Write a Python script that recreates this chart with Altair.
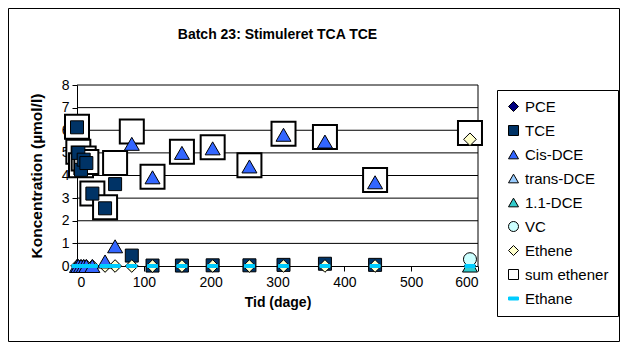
import altair as alt
import pandas as pd

# time points (days)
t_all = [0, 2, 6, 10, 14, 23, 42, 57, 82, 113, 157, 203, 258, 309, 371, 446, 588]

N = None
pce = [0, 0, 0, 0, 0, 0, 0, 0, 0, 0, 0, 0, 0, 0, 0, 0, 0]
tce = [6.13, 5.0, 4.25, 4.7, 4.55, 3.2, 2.55, 3.62, 0.46, 0.02, 0.02, 0.03, 0.03, 0.05, 0.1, 0.05, N]
cis = [0, 0, 0, 0, 0, 0, 0.2, 0.87, 5.4, 3.92, 5.0, 5.2, 4.4, 5.8, 5.5, 3.7, N]
trans = [N, N, N, N, N, N, N, N, N, N, N, N, N, N, N, N, N]
dce11 = [N, N, N, N, N, N, N, N, N, N, N, N, N, N, N, N, 0.02]
vc = [N, N, N, N, N, N, N, N, N, N, N, N, N, N, N, N, 0.3]
ethene = [0, 0, 0, 0, 0, 0, 0, 0, 0, 0, 0, 0, 0, 0, 0, 0, 5.6]
sum_eth = [6.15, 5.05, 4.45, 4.75, 4.6, 3.2, 2.6, 4.55, 5.95, 3.95, 5.05, 5.25, 4.45, 5.85, 5.7, 3.8, 5.88]
ethane = [0, 0, 0, 0, 0, 0, 0, 0, 0, 0, 0, 0, 0, 0, 0, 0, 0]

series_names = ["PCE", "TCE", "Cis-DCE", "trans-DCE", "1.1-DCE", "VC", "Ethene", "sum ethener", "Ethane"]
series_vals = [pce, tce, cis, trans, dce11, vc, ethene, sum_eth, ethane]
shapes = ["diamond", "square", "triangle-up", "triangle-up", "triangle-up", "circle", "diamond", "square",
          "M-1,-0.3L1,-0.3L1,0.3L-1,0.3Z"]
fills = ["#000080", "#003366", "#3366FF", "#99CCFF", "#33CCCC", "#CCFFFF", "#FFFFCC", "#FFFFFF", "#00CCFF"]
strokes = ["#000000", "#000000", "#000000", "#000000", "#000000", "#000000", "#000000", "#000000", "#00CCFF"]

y_ticks = [0, 1, 2, 3, 4, 5, 6, 7, 8]
x_ticks = [0, 100, 200, 300, 400, 500, 600]
title_text = "Batch 23: Stimuleret TCA TCE"

# draw order: sum ethener first (underneath)
draw_order = ["sum ethener", "PCE", "TCE", "trans-DCE", "1.1-DCE", "Ethene", "VC", "Cis-DCE", "Ethane"]
rows = []
for name in draw_order:
    vals = series_vals[series_names.index(name)]
    for t, v in zip(t_all, vals):
        if v is not None:
            rows.append({"t": t, "v": v, "series": name})
df = pd.DataFrame(rows)

W, H = 611, 333
xs = alt.Scale(domain=[0, 600], range=[69, 470], nice=False, zero=False)
ys = alt.Scale(domain=[0, 8], range=[258, 77], nice=False, zero=False)

x_axis = alt.Axis(title="Tid (dage)", values=x_ticks, grid=False, offset=-75,
                  tickSize=5, domainColor="black", tickColor="black", labelFontSize=14,
                  titleFontSize=14, titleFontWeight="bold", labelColor="black", titleColor="black",
                  labelPadding=4, titlePadding=6)
y_axis = alt.Axis(title="Koncentration (µmol/l)", values=y_ticks, grid=False, offset=-69,
                  tickSize=5, domainColor="black",
                  tickColor="black", labelFontSize=14, titleFontSize=15.5, titleFontWeight="bold",
                  labelColor="black", titleColor="black", labelPadding=3, titlePadding=17)
legend = alt.Legend(title=None, orient="none", legendX=489, legendY=82,
                    strokeColor="black", fillColor="white", padding=9,
                    labelFontSize=15, labelColor="black", symbolSize=100, rowPadding=8,
                    symbolStrokeWidth=1, symbolOpacity=1, labelLimit=200, labelOffset=4)

grid = alt.Chart(pd.DataFrame({"g": y_ticks[1:]})).mark_rule(color="black", strokeWidth=1).encode(
    y=alt.Y("g:Q", scale=ys, axis=y_axis, title="Koncentration (µmol/l)"),
    x=alt.X(datum=0, scale=xs, axis=x_axis, title="Tid (dage)"),
    x2=alt.datum(600),
)
right_border = alt.Chart(pd.DataFrame({"g": [0]})).mark_rule(color="black", strokeWidth=1).encode(
    x=alt.X(datum=600, scale=xs, axis=x_axis, title="Tid (dage)"),
    y=alt.Y(datum=0, scale=ys, axis=y_axis, title="Koncentration (µmol/l)"),
    y2=alt.datum(8),
)

size_enc = {
    "condition": [
        {"test": "datum.series === 'sum ethener'", "value": 576},
        {"test": "datum.series === 'TCE'", "value": 169},
        {"test": "indexof(['Cis-DCE','trans-DCE','1.1-DCE'], datum.series) >= 0", "value": 225},
        {"test": "datum.series === 'VC'", "value": 170},
        {"test": "datum.series === 'Ethane'", "value": 100},
        {"test": "datum.series === 'Ethene'", "value": 160},
    ],
    "value": 144,
}

points = alt.Chart(df).mark_point(filled=True, opacity=1).encode(
    x=alt.X("t:Q", scale=xs, axis=x_axis, title="Tid (dage)"),
    y=alt.Y("v:Q", scale=ys, axis=y_axis, title="Koncentration (µmol/l)"),
    shape=alt.Shape("series:N", scale=alt.Scale(domain=series_names, range=shapes), legend=legend),
    fill=alt.Fill("series:N", scale=alt.Scale(domain=series_names, range=fills), legend=legend),
    stroke=alt.Stroke("series:N", scale=alt.Scale(domain=series_names, range=strokes), legend=legend),
    size=size_enc,
    strokeWidth=alt.condition(alt.datum.series == "sum ethener", alt.value(2), alt.value(1)),
)

title = alt.Chart(pd.DataFrame({"title": [title_text]})).mark_text(
    fontSize=14, fontWeight="bold", color="black", baseline="middle", align="center"
).encode(
    text="title:N",
    x=alt.X(datum=300, scale=xs, axis=x_axis, title="Tid (dage)"),
    y=alt.value(27),
)

chart = alt.layer(grid, right_border, points, title).properties(
    width=W, height=H,
    autosize=alt.AutoSizeParams(type="none"),
    padding={"left": 0, "top": 0, "right": 1, "bottom": 1},
).configure(
    font="Liberation Sans",
).configure_view(
    stroke="black", strokeWidth=1
)

chart.save("out.html", embed_options={"renderer": "svg", "actions": False})
